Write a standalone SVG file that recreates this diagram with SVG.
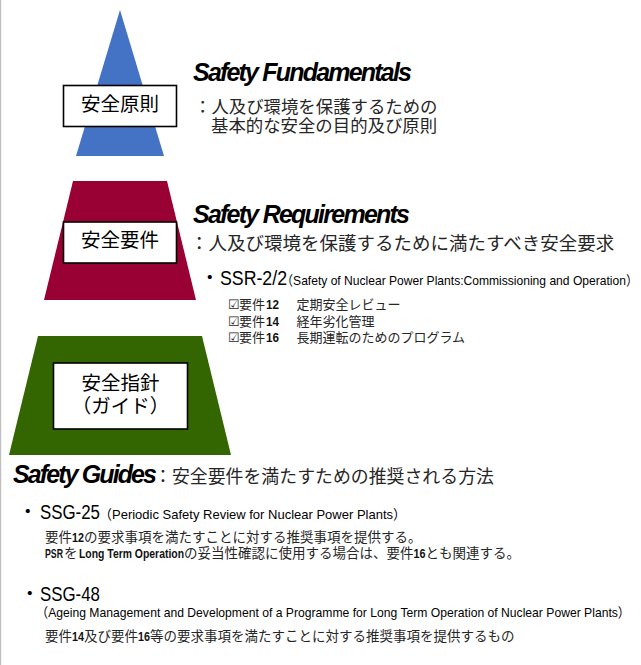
<svg xmlns="http://www.w3.org/2000/svg" width="641" height="665" viewBox="0 0 641 665">
<style>
.bg{fill:#ffffff}
.edge{stroke:#bfbfbf;stroke-width:1.2}
.box{fill:#ffffff;stroke:#000000;stroke-width:1.6}
.lbl{font-family:"Noto Sans CJK JP",sans-serif;font-size:19.5px;fill:#000000;text-anchor:middle}
.title{font-family:"Liberation Sans",Arial,sans-serif;font-weight:bold;font-style:italic;font-size:25px;fill:#000000}
.jp{font-family:"Noto Sans CJK JP",sans-serif;fill:#262626}
.mix{font-family:"Liberation Sans","Noto Sans CJK JP",sans-serif;fill:#262626}
.code{font-family:"Liberation Sans","Noto Sans CJK JP",sans-serif;font-size:20px;fill:#000000}
.paren{font-family:"Liberation Sans","Noto Sans CJK JP",sans-serif;font-size:13.5px;fill:#000000}
.b{font-weight:bold;fill:#111111}
</style>
<rect class="bg" x="0" y="0" width="641" height="665"/>
<line class="edge" x1="0.6" y1="0" x2="0.6" y2="665"/>

<g id="tier-fundamentals">
  <polygon points="120,10 164,156 76,156" fill="#4472c4"/>
  <rect class="box" x="63.5" y="85.5" width="113" height="41"/>
  <text class="lbl" x="120" y="110.5">安全原則</text>
</g>

<g id="tier-requirements">
  <polygon points="73,181 167,181 196,300 44,300" fill="#990033"/>
  <rect class="box" x="63.5" y="222" width="113" height="41"/>
  <text class="lbl" x="120" y="247">安全要件</text>
</g>

<g id="tier-guides">
  <polygon points="38,336 202,336 231,455 9,455" fill="#336600"/>
  <rect class="box" x="53.5" y="363" width="134" height="66"/>
  <text class="lbl" x="120.5" y="390">安全指針</text>
  <text class="lbl" x="120.5" y="413">（ガイド）</text>
</g>

<g id="desc-fundamentals">
  <text class="title" x="193" y="81" textLength="219" lengthAdjust="spacing">Safety Fundamentals</text>
  <text class="jp" x="194" y="113" font-size="17.4">：人及び環境を保護するための</text>
  <text class="jp" x="211" y="131.5" font-size="17.4">基本的な安全の目的及び原則</text>
</g>

<g id="desc-requirements">
  <text class="title" x="193" y="223" textLength="217" lengthAdjust="spacing">Safety Requirements</text>
  <text class="jp" x="190" y="250" font-size="18.5">：人及び環境を保護するために満たすべき安全要求</text>
  <text class="code" x="200" y="285"><tspan font-size="19.5">・</tspan><tspan x="220" textLength="67" lengthAdjust="spacingAndGlyphs">SSR-2/2</tspan></text>
  <text class="paren" x="281" y="285" textLength="357" lengthAdjust="spacingAndGlyphs">（Safety of Nuclear Power Plants:Commissioning and Operation）</text>
  <text class="mix" y="309" font-size="13"><tspan x="228">☑</tspan><tspan x="239">要件</tspan><tspan class="b" x="266" textLength="13" lengthAdjust="spacingAndGlyphs">12</tspan><tspan x="283.5">　定期安全レビュー</tspan></text>
  <text class="mix" y="325.5" font-size="13"><tspan x="228">☑</tspan><tspan x="239">要件</tspan><tspan class="b" x="266" textLength="13" lengthAdjust="spacingAndGlyphs">14</tspan><tspan x="283.5">　経年劣化管理</tspan></text>
  <text class="mix" y="342" font-size="13"><tspan x="228">☑</tspan><tspan x="239">要件</tspan><tspan class="b" x="266" textLength="13" lengthAdjust="spacingAndGlyphs">16</tspan><tspan x="283.5">　長期運転のためのプログラム</tspan></text>
</g>

<g id="desc-guides">
  <text class="title" x="13" y="483" textLength="144" lengthAdjust="spacing">Safety Guides</text>
  <text class="jp" x="154" y="483" font-size="17.9">：安全要件を満たすための推奨される方法</text>

  <text class="code" x="18" y="519"><tspan font-size="19.5">・</tspan><tspan x="40" textLength="60" lengthAdjust="spacingAndGlyphs">SSG-25</tspan></text>
  <text class="paren" x="99" y="519" textLength="307" lengthAdjust="spacingAndGlyphs">（Periodic Safety Review for Nuclear Power Plants）</text>
  <text class="mix" x="45" y="542" font-size="13.5">要件<tspan class="b" textLength="12" lengthAdjust="spacingAndGlyphs">12</tspan>の要求事項を満たすことに対する推奨事項を提供する。</text>
  <text class="mix" x="45" y="558" font-size="13.5"><tspan class="b" textLength="18" lengthAdjust="spacingAndGlyphs">PSR</tspan><tspan x="64">を</tspan><tspan class="b" x="79" textLength="105" lengthAdjust="spacingAndGlyphs">Long Term Operation</tspan><tspan x="184">の妥当性確認に使用する場合は、要件</tspan><tspan class="b" textLength="12" lengthAdjust="spacingAndGlyphs">16</tspan>とも関連する。</text>

  <text class="code" x="20" y="601"><tspan font-size="19.5">・</tspan><tspan x="40" textLength="60" lengthAdjust="spacingAndGlyphs">SSG-48</tspan></text>
  <text class="paren" x="36" y="617" textLength="594" lengthAdjust="spacingAndGlyphs">（Ageing Management and Development of a Programme for Long Term Operation of Nuclear Power Plants）</text>
  <text class="mix" x="45" y="641" font-size="13.5">要件<tspan class="b" textLength="12" lengthAdjust="spacingAndGlyphs">14</tspan>及び要件<tspan class="b" textLength="12" lengthAdjust="spacingAndGlyphs">16</tspan>等の要求事項を満たすことに対する推奨事項を提供するもの</text>
</g>
</svg>
